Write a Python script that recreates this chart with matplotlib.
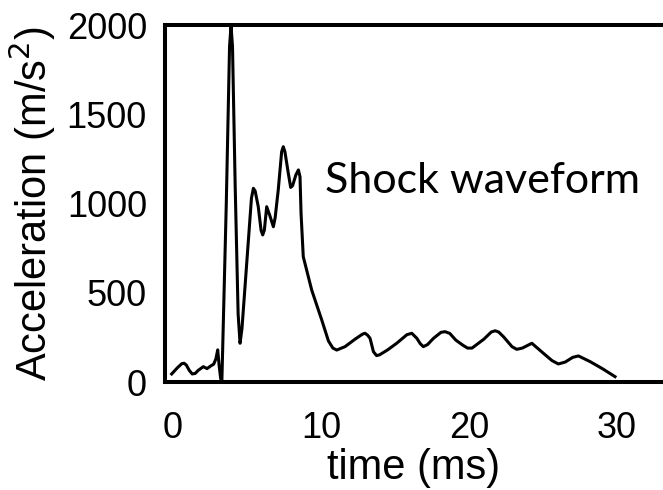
# shock waveform - acceleration vs time

import matplotlib.pyplot as plt

# time values (ms)
t = [-0.09, 0.3, 0.6, 0.75, 0.9, 1.1, 1.3, 1.5, 1.7, 2.05, 2.3, 2.55, 2.75, 2.9, 3.02, 3.12, 3.22, 3.3,
     3.6, 3.82, 3.92, 4.02, 4.2, 4.4, 4.53, 4.66, 4.98, 5.3, 5.43, 5.55, 5.76, 5.95, 6.06,
     6.17, 6.33, 6.55, 6.78, 6.9, 7.11, 7.34, 7.45, 7.56, 7.79, 7.95, 8.08, 8.3, 8.47, 8.58,
     8.65, 8.8, 9.37, 10.05, 10.5, 10.8, 11.06, 11.62, 12.3, 12.8, 12.97, 13.15, 13.31, 13.54,
     13.75, 13.95, 14.5, 15.11, 15.8, 16.13, 16.47, 16.7, 16.91, 17.2, 17.6, 18.1, 18.38, 18.7, 19.1, 19.6,
     19.9, 20.2, 21.0, 21.5, 21.76, 22.0, 22.32, 22.9, 23.22, 23.6, 24.24, 25.02, 25.6, 26.03, 26.5,
     27.0, 27.39, 28.18, 29.0, 29.86]
# acceleration values (m/s2)
acc = [45, 80, 103, 105, 95, 65, 45, 48, 65, 86, 75, 90, 100, 130, 180, 90, 20, 0,
       1000, 1880, 1995, 1880, 1100, 380, 217, 300, 665, 1030, 1085, 1070, 982, 850, 824,
       850, 982, 930, 870, 920, 1076, 1290, 1318, 1290, 1169, 1090, 1100, 1160, 1188, 1150,
       945, 702, 515, 347, 230, 190, 179, 198, 240, 268, 273, 262, 245, 170,
       148, 152, 180, 217, 265, 273, 245, 215, 198, 210, 245, 278, 282, 272, 235, 205,
       190, 190, 240, 280, 287, 280, 254, 198, 183, 190, 217, 161, 120, 101, 112,
       138, 146, 114, 75, 30]

fig = plt.figure(figsize=(6.63, 4.9), dpi=100)
ax = fig.add_axes([165 / 663, 108 / 490, 498 / 663, 357 / 490])

# plotting the graph
ax.plot(t, acc, color='black', linewidth=2.2, solid_joinstyle='round')

ax.set_xlim(-0.54, 33.1)
ax.set_ylim(0, 2000)
ax.set_xticks([0, 10, 20, 30])
ax.set_yticks([0, 500, 1000, 1500, 2000])

for side in ['left', 'bottom', 'top']:
    ax.spines[side].set_linewidth(2.9)
ax.spines['right'].set_visible(False)

ax.tick_params(length=0, labelsize=26)
ax.tick_params(axis='y', pad=13)
ax.tick_params(axis='x', pad=21)
for lab in ax.get_xticklabels() + ax.get_yticklabels():
    lab.set_fontfamily('Liberation Sans')

# axis labels
ax.set_xlabel('time (ms)', fontsize=30, family='Liberation Sans', labelpad=1)
ax.set_ylabel('Acceleration (m/s$^2$)', fontsize=30, family='Liberation Sans', labelpad=6)

# annotation
fig.text(325 / 663, 1 - 193 / 490, 'Shock waveform', fontsize=31, family='Lato',
         va='baseline', ha='left')

fig.savefig('out.png', dpi=100)
